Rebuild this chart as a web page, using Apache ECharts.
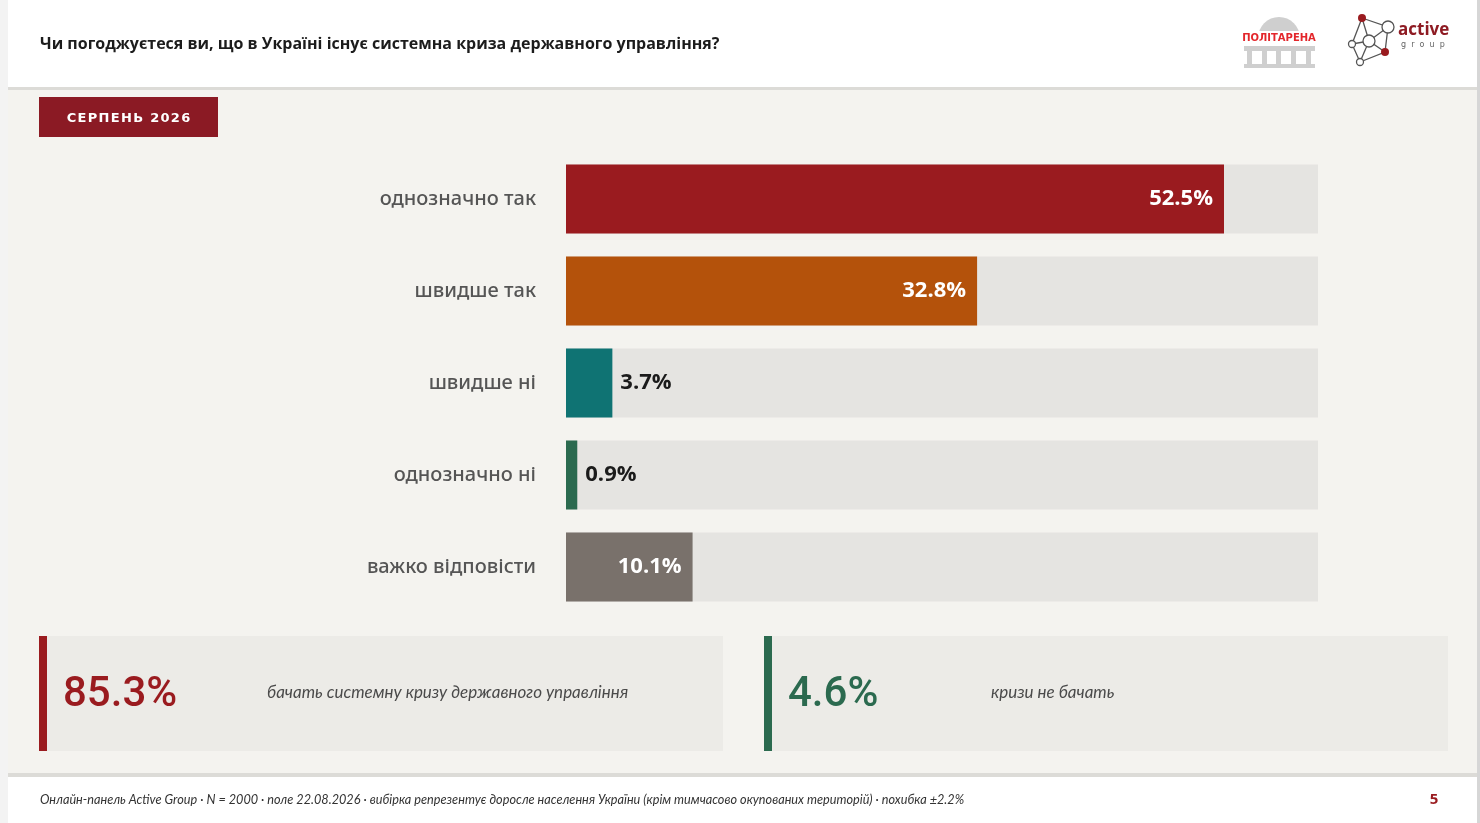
<!DOCTYPE html>
<html lang="uk">
<head>
<meta charset="UTF-8">
<title>Системна криза державного управління</title>
<style>
  html, body { margin: 0; padding: 0; background: #f3f3f3; }
  #main { width: 1480px; height: 823px; }
</style>
</head>
<body>
<div id="main"></div>
<script src="https://cdn.jsdelivr.net/npm/echarts@6/dist/echarts.min.js"></script>
<script>
// дані опитування
var categories = ['однозначно так', 'швидше так', 'швидше ні', 'однозначно ні', 'важко відповісти'];
var values = [52.5, 32.8, 3.7, 0.9, 10.1];
var barColors = ['#9a1b1f', '#b4520b', '#0f7373', '#2b6a4f', '#79716b'];
var axisMax = 60;

var titleText = 'Чи погоджуєтеся ви, що в Україні існує системна криза державного управління?';
var periodText = 'СЕРПЕНЬ 2026';
var summaryLabels = ['бачать системну кризу державного управління', 'кризи не бачать'];
var summaryValues = [85.3, 4.6];
var footText = 'Онлайн-панель Active Group · N = 2000 · поле 22.08.2026 · вибірка репрезентує доросле населення України (крім тимчасово окупованих територій) · похибка ±2.2%';
var pageNo = '5';

var myChart = echarts.init(document.getElementById('main'));

// підписи: довгі смуги - білий текст всередині, короткі - темний праворуч
var barData = values.map(function (v, i) {
    var inside = v > 8;
    return {
        value: v,
        itemStyle: { color: barColors[i] },
        label: {
            position: inside ? 'insideRight' : 'right',
            distance: inside ? 11 : 8,
            color: inside ? '#ffffff' : '#1b1b1b'
        }
    };
});

var graphics = [
    // шапка
    { type: 'rect', shape: { x: 8, y: 0, width: 1469, height: 87 }, style: { fill: '#ffffff' }, z: 1 },
    { type: 'rect', shape: { x: 8, y: 87, width: 1469, height: 3 }, style: { fill: '#dcdbd7' }, z: 1 },
    { type: 'rect', shape: { x: 8, y: 90, width: 1469, height: 684 }, style: { fill: '#f4f3ef' }, z: 1 },
    { type: 'rect', shape: { x: 1477, y: 0, width: 3, height: 823 }, style: { fill: '#d6d6d6' }, z: 1 },
    { type: 'text', left: 40, top: 36, z: 5,
      style: { text: titleText, font: 'bold 16px "Open Sans"', fill: '#1c1c1c' } },

    // логотип Політарена
    { type: 'sector', shape: { cx: 1279, cy: 38, r0: 0, r: 21, startAngle: Math.PI, endAngle: 2 * Math.PI }, style: { fill: '#cfcfcf' }, z: 3 },
    { type: 'rect', shape: { x: 1245, y: 31, width: 69, height: 15 }, style: { fill: '#ffffff' }, z: 4 },
    { type: 'text', x: 1279, y: 38.5, z: 5,
      style: { text: 'ПОЛІТАРЕНА', font: 'bold 10px "DejaVu Sans"', fill: '#e3262b', align: 'center', verticalAlign: 'middle' } },
    { type: 'rect', shape: { x: 1244, y: 46, width: 71, height: 5 }, style: { fill: '#cfcfcf' }, z: 3 },
    { type: 'rect', shape: { x: 1247, y: 51, width: 5, height: 16 }, style: { fill: '#cfcfcf' }, z: 3 },
    { type: 'rect', shape: { x: 1262, y: 51, width: 5, height: 16 }, style: { fill: '#cfcfcf' }, z: 3 },
    { type: 'rect', shape: { x: 1276, y: 51, width: 5, height: 16 }, style: { fill: '#cfcfcf' }, z: 3 },
    { type: 'rect', shape: { x: 1291, y: 51, width: 5, height: 16 }, style: { fill: '#cfcfcf' }, z: 3 },
    { type: 'rect', shape: { x: 1306, y: 51, width: 5, height: 16 }, style: { fill: '#cfcfcf' }, z: 3 },
    { type: 'rect', shape: { x: 1244, y: 64, width: 71, height: 4 }, style: { fill: '#cfcfcf' }, z: 3 },

    // логотип Active Group
    { type: 'polyline', shape: { points: [[1362, 18], [1388, 27], [1385, 52], [1360, 62], [1352, 44], [1362, 18]] },
      style: { stroke: '#555', lineWidth: 1.3, fill: null }, z: 3 },
    { type: 'polyline', shape: { points: [[1362, 18], [1369, 41], [1388, 27]] }, style: { stroke: '#555', lineWidth: 1.3, fill: null }, z: 3 },
    { type: 'polyline', shape: { points: [[1352, 44], [1369, 41], [1385, 52]] }, style: { stroke: '#555', lineWidth: 1.3, fill: null }, z: 3 },
    { type: 'line', shape: { x1: 1369, y1: 41, x2: 1360, y2: 62 }, style: { stroke: '#555', lineWidth: 1.3 }, z: 3 },
    { type: 'circle', shape: { cx: 1362, cy: 18, r: 4 }, style: { fill: '#9a1b1f' }, z: 4 },
    { type: 'circle', shape: { cx: 1388, cy: 27, r: 6 }, style: { fill: '#ffffff', stroke: '#555', lineWidth: 1.3 }, z: 4 },
    { type: 'circle', shape: { cx: 1369, cy: 41, r: 6 }, style: { fill: '#ffffff', stroke: '#555', lineWidth: 1.3 }, z: 4 },
    { type: 'circle', shape: { cx: 1352, cy: 44, r: 3.5 }, style: { fill: '#ffffff', stroke: '#555', lineWidth: 1.3 }, z: 4 },
    { type: 'circle', shape: { cx: 1385, cy: 52, r: 4 }, style: { fill: '#9a1b1f' }, z: 4 },
    { type: 'circle', shape: { cx: 1360, cy: 62, r: 3.5 }, style: { fill: '#ffffff', stroke: '#555', lineWidth: 1.3 }, z: 4 },
    { type: 'text', x: 1398, y: 22, z: 5,
      style: { text: 'active', font: 'bold 17px "Open Sans"', fill: '#8e1b23' } },
    { type: 'text', x: 1401, y: 41, z: 5,
      style: { text: 'g  r  o  u  p', font: '8px "DejaVu Sans"', fill: '#666' } },

    // плашка періоду
    { type: 'rect', shape: { x: 39, y: 97, width: 179, height: 40 }, style: { fill: '#8b1a24' }, z: 3 },
    { type: 'text', x: 128.5, y: 118.5, z: 5,
      style: { text: periodText.split('').join('\u200A'), font: 'bold 13px "DejaVu Sans"', fill: '#ffffff',
               align: 'center', verticalAlign: 'middle' } },

    // підсумкові блоки
    { type: 'rect', shape: { x: 39, y: 636, width: 684, height: 115 }, style: { fill: '#ecebe7' }, z: 3 },
    { type: 'rect', shape: { x: 39, y: 636, width: 8, height: 115 }, style: { fill: '#9a1b1f' }, z: 4 },
    { type: 'text', x: 63, y: 695, z: 5,
      style: { text: summaryValues[0].toFixed(1) + '%', font: '500 42px Roboto', fill: '#9a1b1f', verticalAlign: 'middle' } },
    { type: 'text', x: 267, y: 693, z: 5,
      style: { text: summaryLabels[0], font: 'italic 17px Lato', fill: '#4a4a4a', verticalAlign: 'middle' } },
    { type: 'rect', shape: { x: 764, y: 636, width: 684, height: 115 }, style: { fill: '#ecebe7' }, z: 3 },
    { type: 'rect', shape: { x: 764, y: 636, width: 8, height: 115 }, style: { fill: '#2b6a4f' }, z: 4 },
    { type: 'text', x: 788, y: 695, z: 5,
      style: { text: summaryValues[1].toFixed(1) + '%', font: '500 42px Roboto', fill: '#2b6a4f', verticalAlign: 'middle' } },
    { type: 'text', x: 991, y: 693, z: 5,
      style: { text: summaryLabels[1], font: 'italic 17px Lato', fill: '#4a4a4a', verticalAlign: 'middle' } },

    // підвал
    { type: 'rect', shape: { x: 8, y: 773, width: 1469, height: 4 }, style: { fill: '#dcdbd7' }, z: 1 },
    { type: 'rect', shape: { x: 8, y: 777, width: 1469, height: 46 }, style: { fill: '#ffffff' }, z: 1 },
    { type: 'text', x: 40, y: 800, z: 5,
      style: { text: footText, font: 'italic 12.7px Lato', fill: '#333333', verticalAlign: 'middle' } },
    { type: 'text', x: 1434, y: 800, z: 5,
      style: { text: pageNo, font: 'bold 15px "Open Sans"', fill: '#9a1b1f', align: 'center', verticalAlign: 'middle' } }
];

myChart.setOption({
    backgroundColor: '#f3f3f3',
    animation: false,
    graphic: { elements: graphics },
    grid: { left: 566, right: 162, top: 153, height: 460, containLabel: false },
    xAxis: {
        type: 'value', min: 0, max: axisMax,
        show: false
    },
    yAxis: {
        type: 'category',
        data: categories,
        inverse: true,
        z: 10,
        axisLine: { show: false },
        axisTick: { show: false },
        axisLabel: {
            margin: 30,
            fontSize: 20,
            fontFamily: 'Noto Sans',
            fontWeight: 500,
            color: '#555555',
            padding: [5, 0, 0, 0]
        }
    },
    series: [{
        type: 'bar',
        data: barData,
        barCategoryGap: '25%',
        barMinWidth: 1,
        showBackground: true,
        backgroundStyle: { color: '#e5e4e1' },
        label: {
            show: true,
            fontSize: 22,
            fontWeight: 'bold',
            fontFamily: 'Open Sans',
            padding: [3, 0, 0, 0],
            formatter: function (p) { return p.value.toFixed(1) + '%'; }
        },
        z: 5
    }]
});
</script>
</body>
</html>
